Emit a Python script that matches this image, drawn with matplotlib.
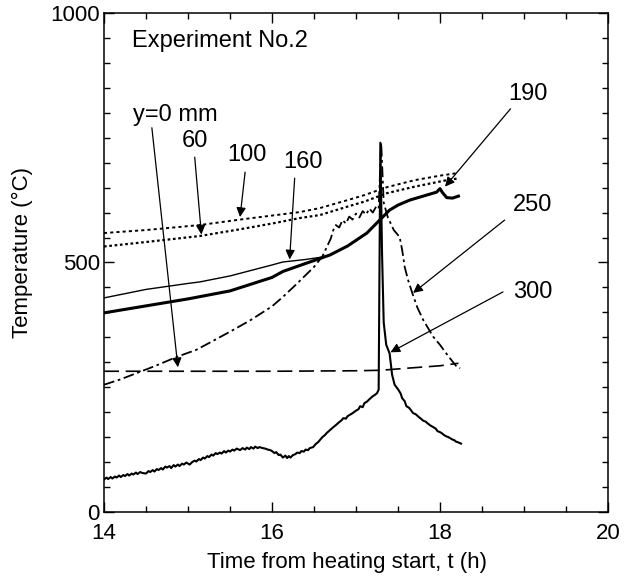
import matplotlib
matplotlib.use("Agg")
import matplotlib.pyplot as plt
from matplotlib.ticker import MultipleLocator

plt.rcParams["font.family"] = ["Liberation Sans", "DejaVu Sans"]

# y = 0 mm (long dash)
t_0 = [14.0, 15.0, 16.0, 17.0, 17.3, 17.6, 18.0, 18.22]
T_0 = [282, 282, 282, 283, 284, 288, 293, 298]

# y = 60 mm (dotted, lower)
t_60 = [14.0, 14.5, 15.14, 15.6, 16.0, 16.33, 16.57, 16.9, 17.1, 17.37, 17.7, 18.08, 18.2]
T_60 = [532, 541, 553, 566, 578, 589, 595, 612, 622, 639, 652, 665, 668]

# y = 100 mm (dotted, upper)
t_100 = [14.0, 14.5, 15.14, 15.62, 16.0, 16.33, 16.57, 16.9, 17.1, 17.37, 17.7, 18.0, 18.2]
T_100 = [559, 565, 575, 586, 594, 601, 609, 625, 635, 651, 665, 674, 679]

# y = 160 mm (thin solid)
t_160 = [14.0, 14.5, 15.0, 15.14, 15.5, 16.0, 16.13, 16.4, 16.6, 16.7]
T_160 = [429, 446, 458, 461, 473, 495, 501, 506, 511, 515]

# y = 190 mm (thick solid)
t_190 = [14.0, 14.5, 15.0, 15.5, 16.0, 16.13, 16.4, 16.69, 16.9, 17.13, 17.3, 17.4,
         17.5, 17.64, 17.8, 17.96, 18.0, 18.03, 18.08, 18.15, 18.22]
T_190 = [399, 413, 427, 443, 470, 482, 498, 515, 533, 559, 588, 605,
         615, 625, 633, 641, 648, 640, 630, 629, 633]

# y = 250 mm (dash-dot)
t_250 = [14.0, 14.2, 14.4, 14.6, 14.87, 15.1, 15.3, 15.54, 15.75, 16.0, 16.13, 16.3,
         16.5, 16.6, 16.65, 16.7, 16.73, 16.76, 16.8, 16.84, 16.88, 16.92, 16.96,
         17.0, 17.04, 17.08, 17.12, 17.16, 17.2, 17.24, 17.27, 17.3, 17.33, 17.38,
         17.45, 17.52, 17.55, 17.58, 17.62, 17.67, 17.73, 17.8, 17.86, 17.92, 18.0,
         18.1, 18.2, 18.24]
T_250 = [255, 266, 279, 292, 311, 325, 343, 365, 385, 412, 431, 458,
         491, 512, 530, 548, 565, 575, 570, 585, 578, 592, 586,
         598, 590, 603, 596, 608, 600, 612, 608, 740, 620, 590,
         565, 551, 525, 491, 465, 439, 410, 385, 368, 351, 335,
         312, 291, 288]

# y = 300 mm (thin solid, noisy)
t_300 = [14.0, 14.03, 14.05, 14.08, 14.1, 14.13, 14.15, 14.18, 14.2, 14.23, 14.25,
         14.28, 14.3, 14.33, 14.35, 14.38, 14.4, 14.43, 14.46, 14.5, 14.53, 14.55,
         14.58, 14.6, 14.63, 14.65, 14.68, 14.7, 14.73, 14.75, 14.78, 14.8, 14.83,
         14.85, 14.88, 14.9, 14.93, 14.95, 14.98, 15.02, 15.05, 15.08, 15.1, 15.13,
         15.15, 15.18, 15.2, 15.23, 15.25, 15.28, 15.3, 15.33, 15.35, 15.38, 15.4,
         15.43, 15.45, 15.48, 15.5, 15.53, 15.55, 15.58, 15.62, 15.65, 15.68, 15.7,
         15.73, 15.75, 15.78, 15.8, 15.83, 15.85, 15.89, 15.92, 15.95, 15.98, 16.0,
         16.03, 16.05, 16.08, 16.1, 16.13, 16.16, 16.18, 16.2, 16.22, 16.25, 16.28,
         16.3, 16.33, 16.35, 16.38, 16.4, 16.43, 16.45, 16.49, 16.52, 16.55, 16.58,
         16.6, 16.63, 16.65, 16.69, 16.73, 16.76, 16.8, 16.83, 16.85, 16.88, 16.9,
         16.93, 16.96, 17.0, 17.03, 17.05, 17.08, 17.1, 17.13, 17.16, 17.18, 17.2,
         17.22, 17.25, 17.27, 17.29, 17.31, 17.33, 17.36, 17.4, 17.43, 17.46, 17.5,
         17.53, 17.55, 17.58, 17.6, 17.63, 17.65, 17.68, 17.71, 17.75, 17.78, 17.8,
         17.83, 17.85, 17.88, 17.92, 17.95, 17.97, 18.0, 18.02, 18.05, 18.07, 18.1,
         18.12, 18.15, 18.17, 18.19, 18.21, 18.25]
T_300 = [65, 69, 66, 70, 67, 71, 69, 73, 70, 74, 72, 76, 73, 77, 75, 79, 76, 80,
         78, 77, 82, 80, 84, 81, 86, 84, 88, 85, 91, 89, 92, 88, 94, 91, 95, 92,
         97, 95, 99, 95, 100, 103, 101, 106, 104, 109, 107, 112, 110, 115, 113,
         118, 116, 119, 117, 122, 119, 123, 121, 125, 123, 127, 124, 128, 125, 129,
         126, 130, 127, 131, 128, 130, 128, 127, 125, 124, 122, 118, 120, 114, 115,
         109, 113, 108, 112, 109, 114, 116, 119, 118, 122, 121, 125, 124, 128, 130,
         136, 140, 146, 150, 154, 158, 164, 170, 174, 180, 184, 188, 187, 192, 195,
         198, 203, 206, 212, 210, 218, 221, 226, 229, 232, 234, 238, 245, 740, 520,
         380, 335, 318, 275, 255, 246, 238, 228, 222, 212, 209, 205, 198, 196, 190,
         186, 183, 181, 178, 174, 170, 167, 162, 160, 158, 154, 152, 150, 148, 145,
         144, 141, 140, 137]

fig = plt.figure(figsize=(6.31, 5.77), dpi=100)
ax = fig.add_axes([0.1648, 0.1127, 0.7987, 0.8648])

ax.plot(t_0, T_0, color="black", lw=1.2, dashes=(9, 4))
ax.plot(t_60, T_60, color="black", lw=1.6, dashes=(1.2, 1.2))
ax.plot(t_100, T_100, color="black", lw=1.4, dashes=(1.6, 1.6))
ax.plot(t_160, T_160, color="black", lw=1.0)
ax.plot(t_190, T_190, color="black", lw=2.2)
ax.plot(t_250, T_250, color="black", lw=1.3, dashes=(6, 2, 1.5, 2))
ax.plot(t_300, T_300, color="black", lw=1.5)

ax.set_xlim(14, 20)
ax.set_ylim(0, 1000)
ax.xaxis.set_major_locator(MultipleLocator(2))
ax.xaxis.set_minor_locator(MultipleLocator(0.5))
ax.yaxis.set_major_locator(MultipleLocator(500))
ax.yaxis.set_minor_locator(MultipleLocator(50))
ax.tick_params(which="both", direction="in", top=True, right=True, labelsize=16, width=1)
ax.tick_params(which="major", length=7)
ax.tick_params(which="minor", length=4)
ax.tick_params(axis="x", pad=8)
ax.tick_params(axis="y", pad=3)
for s in ax.spines.values():
    s.set_linewidth(1.1)

ax.set_xlabel("Time from heating start, t (h)", fontsize=16)
ax.set_ylabel("Temperature (°C)", fontsize=16)
ax.xaxis.set_label_coords(0.482, -0.08)
ax.yaxis.set_label_coords(-0.14, 0.52)

ax.text(14.33, 944, "Experiment No.2", fontsize=17, ha="left", va="center")

arrow = dict(arrowstyle="-|>", color="black", lw=0.9, mutation_scale=14,
             shrinkA=0, shrinkB=0)
labels = [
    ("y=0 mm", (14.845, 796), (14.57, 770), (14.88, 290)),
    ("60", (15.08, 744), (15.08, 711), (15.16, 556)),
    ("100", (15.70, 715), (15.68, 681), (15.62, 591)),
    ("160", (16.37, 701), (16.27, 669), (16.21, 506)),
    ("190", (19.05, 838), (18.84, 808), (18.06, 652)),
    ("250", (19.10, 615), (18.77, 585), (17.68, 439)),
    ("300", (19.10, 441), (18.75, 441), (17.41, 320)),
]
for name, txt_pos, start, tip in labels:
    ax.text(txt_pos[0], txt_pos[1], name, fontsize=17, ha="center", va="center")
    ax.annotate("", xy=tip, xytext=start, arrowprops=arrow)

fig.savefig("out.png", dpi=100)
